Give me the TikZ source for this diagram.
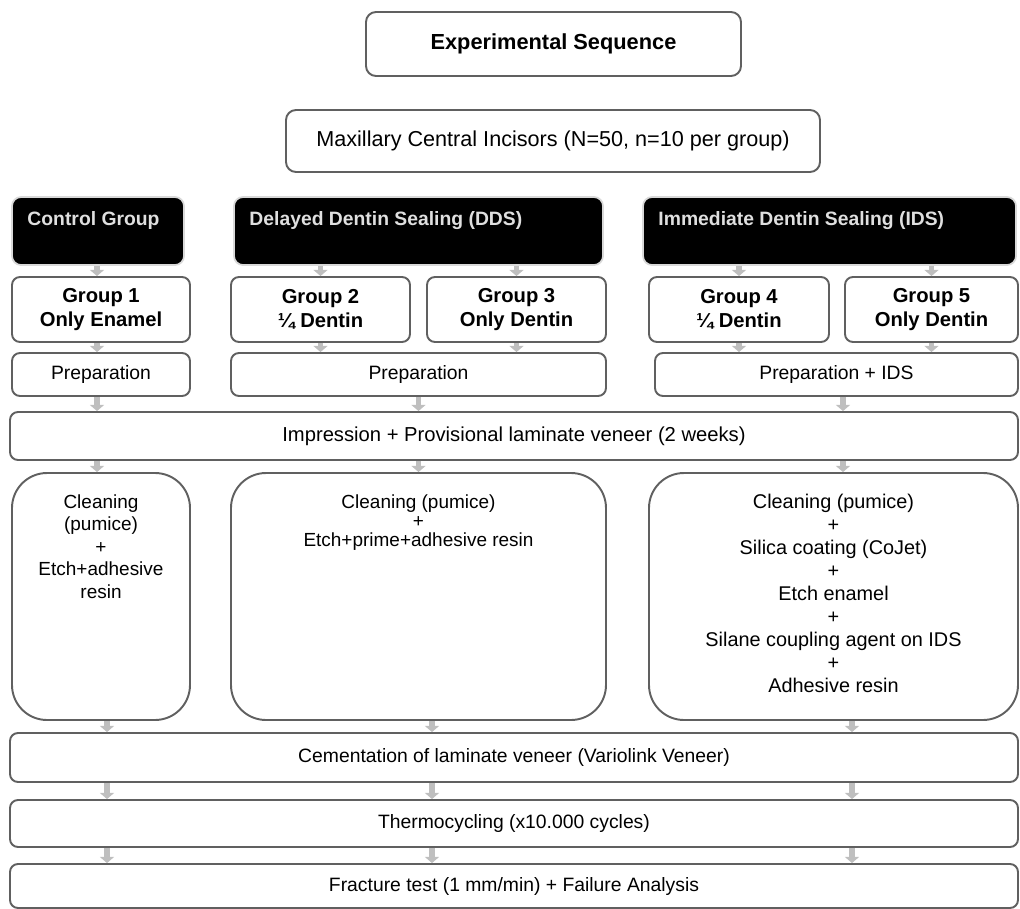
\documentclass[tikz,border=0pt]{standalone}
\usepackage{fontspec}
\setmainfont{Liberation Sans}
\usepackage{tikz}
\usetikzlibrary{arrows.meta}

\begin{document}
\begin{tikzpicture}[line join=round]
    %
    % `stage' is the plain gray-framed box, `header' the black group heads.
    % `link' is the short gray arrow between two boxes.
    \tikzstyle{stage} = [draw=gray!75!black,line width=1.1pt,fill=white,rounded corners=1.6mm,align=center,inner sep=0pt,font=\fontsize{11}{12.8}\selectfont]
    \tikzstyle{header} = [fill=black,draw=gray!30,line width=1pt,rounded corners=1.8mm,inner sep=0pt]
    \tikzstyle{headtext} = [anchor=north west,inner sep=0pt,text=gray!25,font=\bfseries\fontsize{11}{13}\selectfont,xshift=3.2mm,yshift=-3.1mm]
    \tikzstyle{group} = [stage,font=\bfseries\fontsize{11.5}{13.6}\selectfont,minimum height=1.3cm]
    \tikzstyle{steps} = [stage,rounded corners=7mm,minimum height=4.94cm]
    \tikzstyle{steptext} = [anchor=north,inner sep=0pt,align=center,font=\fontsize{10.8}{12.8}\selectfont,yshift=-4.4mm]
    \tikzstyle{link} = [draw=gray!50,line width=3pt,-{Triangle[length=3.5pt,width=8pt]}]
    %
    \useasboundingbox (0,0) rectangle (20.4,-18.18);
    %
    % Title
    \node[stage,font=\bfseries\fontsize{12.4}{14}\selectfont,minimum width=7.5cm,minimum height=1.28cm,rounded corners=2mm] (seq) at (11.07,-0.88) {Experimental Sequence};
    \node[stage,font=\fontsize{12.3}{14}\selectfont,minimum width=10.68cm,minimum height=1.24cm,rounded corners=2mm] (teeth) at (11.06,-2.82) {Maxillary Central Incisors (N=50, n=10 per group)};
    %
    % Group heads
    \node[header,minimum width=3.44cm,minimum height=1.36cm,label={[headtext]north west:Control Group}] (ctrl) at (1.96,-4.62) {};
    \node[header,minimum width=7.38cm,minimum height=1.36cm,label={[headtext]north west:Delayed Dentin Sealing (DDS)}] (dds) at (8.37,-4.62) {};
    \node[header,minimum width=7.46cm,minimum height=1.36cm,label={[headtext]north west:Immediate Dentin Sealing (IDS)}] (ids) at (16.59,-4.62) {};
    %
    % Groups
    \node[group,minimum width=3.56cm] (g1) at (2.02,-6.19) {Group 1\\Only Enamel};
    \node[group,minimum width=3.58cm] (g2) at (6.41,-6.19) {Group 2\\¼ Dentin};
    \node[group,minimum width=3.58cm] (g3) at (10.33,-6.19) {Group 3\\Only Dentin};
    \node[group,minimum width=3.6cm] (g4) at (14.78,-6.19) {Group 4\\¼ Dentin};
    \node[group,minimum width=3.46cm] (g5) at (18.63,-6.19) {Group 5\\Only Dentin};
    %
    % Preparation
    \node[stage,minimum width=3.56cm,minimum height=0.86cm] (p1) at (2.02,-7.49) {Preparation};
    \node[stage,minimum width=7.5cm,minimum height=0.86cm] (p2) at (8.37,-7.49) {Preparation};
    \node[stage,minimum width=7.26cm,minimum height=0.86cm] (p3) at (16.73,-7.49) {Preparation + IDS};
    %
    % Provisional
    \node[stage,font=\fontsize{11.5}{13}\selectfont,minimum width=20.16cm,minimum height=0.96cm] (imp) at (10.28,-8.72) {Impression + Provisional laminate veneer (2 weeks)};
    %
    % Surface treatment
    \node[steps,minimum width=3.56cm,label={[steptext]north:Cleaning\\(pumice)\\+\\Etch+adhesive\\resin}] (c1) at (2.02,-11.93) {};
    \node[steps,minimum width=7.5cm,label={[steptext,font=\fontsize{10.8}{11}\selectfont]north:Cleaning (pumice)\\+\\Etch+prime+adhesive resin}] (c2) at (8.37,-11.93) {};
    \node[steps,minimum width=7.38cm,label={[steptext,font=\fontsize{11.3}{13.1}\selectfont]north:Cleaning (pumice)\\+\\Silica coating (CoJet)\\+\\Etch enamel\\+\\Silane coupling agent on IDS\\+\\Adhesive resin}] (c3) at (16.67,-11.93) {};
    %
    % Final steps
    \node[stage,minimum width=20.16cm,minimum height=0.98cm] (cem) at (10.28,-15.15) {Cementation of laminate veneer (Variolink Veneer)};
    \node[stage,minimum width=20.16cm,minimum height=0.94cm] (thermo) at (10.28,-16.47) {Thermocycling (x10.000 cycles)};
    \node[stage,minimum width=20.16cm,minimum height=0.88cm] (frac) at (10.28,-17.72) {Fracture test (1 mm/min) + Failure Analysis};
    %
    % Arrow columns
    \coordinate (colA1) at (1.94,0);
    \coordinate (colA2) at (8.37,0);
    \coordinate (colA3) at (16.86,0);
    \coordinate (colB1) at (2.14,0);
    \coordinate (colB2) at (8.64,0);
    \coordinate (colB3) at (17.04,0);
    %
    % Heads to groups
    \draw[link] (ctrl.south -| colA1) -- (g1.north -| colA1);
    \draw[link] (dds.south -| g2.north) -- (g2.north);
    \draw[link] (dds.south -| g3.north) -- (g3.north);
    \draw[link] (ids.south -| g4.north) -- (g4.north);
    \draw[link] (ids.south -| g5.north) -- (g5.north);
    %
    % Groups to preparation
    \draw[link] (g1.south -| colA1) -- (p1.north -| colA1);
    \draw[link] (g2.south) -- (p2.north -| g2.south);
    \draw[link] (g3.south) -- (p2.north -| g3.south);
    \draw[link] (g4.south) -- (p3.north -| g4.south);
    \draw[link] (g5.south) -- (p3.north -| g5.south);
    %
    % Preparation to provisional to treatment
    \foreach \p/\c/\x in {p1/c1/colA1,p2/c2/colA2,p3/c3/colA3} {
        \draw[link] (\p.south -| \x) -- (imp.north -| \x);
        \draw[link] (imp.south -| \x) -- (\c.north -| \x);
    }
    %
    % Treatment to the end
    \foreach \c/\x in {c1/colB1,c2/colB2,c3/colB3} {
        \draw[link] (\c.south -| \x) -- (cem.north -| \x);
        \draw[link] (cem.south -| \x) -- (thermo.north -| \x);
        \draw[link] (thermo.south -| \x) -- (frac.north -| \x);
    }
    %
\end{tikzpicture}
\end{document}
